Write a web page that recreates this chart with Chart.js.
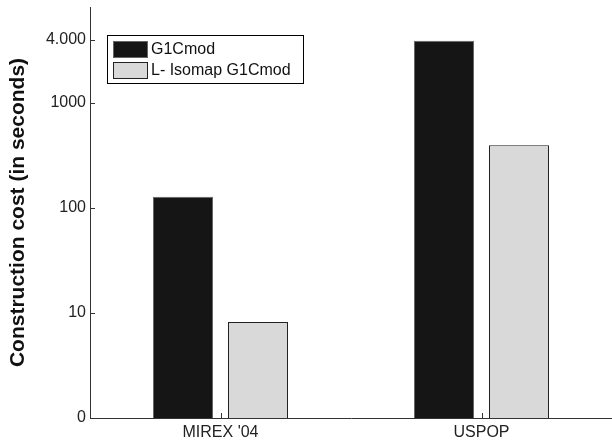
<!DOCTYPE html>
<html>
<head>
<meta charset="utf-8">
<script src="https://cdn.jsdelivr.net/npm/chart.js@4/dist/chart.umd.min.js"></script>
<style>
html,body{margin:0;padding:0;background:#fff;}
#wrap{width:612px;height:442px;position:relative;}
</style>
</head>
<body>
<div id="wrap"><canvas id="c" width="612" height="442"></canvas></div>
<script>
const categories = ["MIREX '04", "USPOP"];
const seriesNames = ["G1Cmod", "L- Isomap G1Cmod"];
const g1cmod = [128, 3920];
const lIsomap = [8.2, 395];
const yTickValues = [1, 10, 100, 1000, 4000];
const yTickLabels = ["0", "10", "100", "1000", "4.000"];

const FONT = "'Liberation Sans', Arial, Helvetica, sans-serif";

const tickMarks = {
  id: 'tickMarks',
  afterDraw(chart) {
    const ctx = chart.ctx;
    const ys = chart.scales.y, xs = chart.scales.x;
    const ca = chart.chartArea;
    ctx.save();
    ctx.strokeStyle = '#333';
    ctx.lineWidth = 1;
    ctx.beginPath();
    ys.ticks.forEach(t => {
      const p = Math.round(ys.getPixelForValue(t.value)) + 0.5;
      ctx.moveTo(ca.left, p); ctx.lineTo(ca.left + 5, p);
    });
    categories.forEach((c, i) => {
      const p = Math.round(xs.getPixelForValue(i)) + 0.5;
      ctx.moveTo(p, ca.bottom); ctx.lineTo(p, ca.bottom - 5);
    });
    ctx.stroke();
    ctx.restore();
  }
};

const boxLegend = {
  id: 'boxLegend',
  afterDraw(chart) {
    const ctx = chart.ctx;
    ctx.save();
    const bx = 107.5, by = 35.5, bw = 196, bh = 48;
    ctx.fillStyle = '#fff';
    ctx.fillRect(bx, by, bw, bh);
    ctx.strokeStyle = '#000';
    ctx.lineWidth = 1;
    ctx.strokeRect(bx, by, bw, bh);
    const rows = [41, 62];
    chart.data.datasets.forEach((ds, i) => {
      const y = rows[i];
      ctx.fillStyle = ds.backgroundColor;
      ctx.fillRect(113, y, 35, 17);
      ctx.strokeStyle = ds.borderColor;
      ctx.strokeRect(113.5, y + 0.5, 34, 16);
      ctx.fillStyle = '#111';
      ctx.font = '16px ' + FONT;
      ctx.textBaseline = 'middle';
      ctx.textAlign = 'left';
      ctx.fillText(ds.label, 151, y + 9);
    });
    ctx.restore();
  }
};

new Chart(document.getElementById('c'), {
  type: 'bar',
  data: {
    labels: categories,
    datasets: [
      { label: seriesNames[0], data: g1cmod, backgroundColor: '#151515', borderColor: '#666', borderWidth: 1, borderSkipped: 'bottom' },
      { label: seriesNames[1], data: lIsomap, backgroundColor: '#d9d9d9', borderColor: '#222', borderWidth: 1, borderSkipped: 'bottom' }
    ]
  },
  options: {
    responsive: false,
    animation: false,
    events: [],
    layout: { padding: { left: 0, right: 0, top: 7, bottom: 0 } },
    datasets: { bar: { categoryPercentage: 0.5747, barPercentage: 0.8 } },
    plugins: { legend: { display: false }, tooltip: { enabled: false } },
    scales: {
      x: {
        grid: { display: true, drawOnChartArea: false, drawTicks: false },
        border: { display: true, color: '#333', width: 1 },
        ticks: { color: '#222', font: { family: FONT, size: 16 }, padding: 5 },
        afterFit(s) { s.height = 24; s.paddingLeft = 0; s.paddingRight = 0; }
      },
      y: {
        type: 'logarithmic',
        min: 1,
        max: 8200,
        grid: { display: true, drawOnChartArea: false, drawTicks: false },
        border: { display: true, color: '#333', width: 1 },
        afterBuildTicks(s) { s.ticks = yTickValues.map(v => ({ value: v })); },
        ticks: {
          color: '#222',
          font: { family: FONT, size: 16 },
          padding: 4,
          autoSkip: false,
          callback(v) { const i = yTickValues.indexOf(v); return i >= 0 ? yTickLabels[i] : ''; }
        },
        title: {
          display: true,
          text: 'Construction cost (in seconds)',
          color: '#111',
          font: { family: FONT, size: 21, weight: 'bold' },
          padding: { top: 6, bottom: 0 }
        },
        afterFit(s) { s.width = 90; s.paddingTop = 0; s.paddingBottom = 0; }
      }
    }
  },
  plugins: [tickMarks, boxLegend]
});
</script>
</body>
</html>
